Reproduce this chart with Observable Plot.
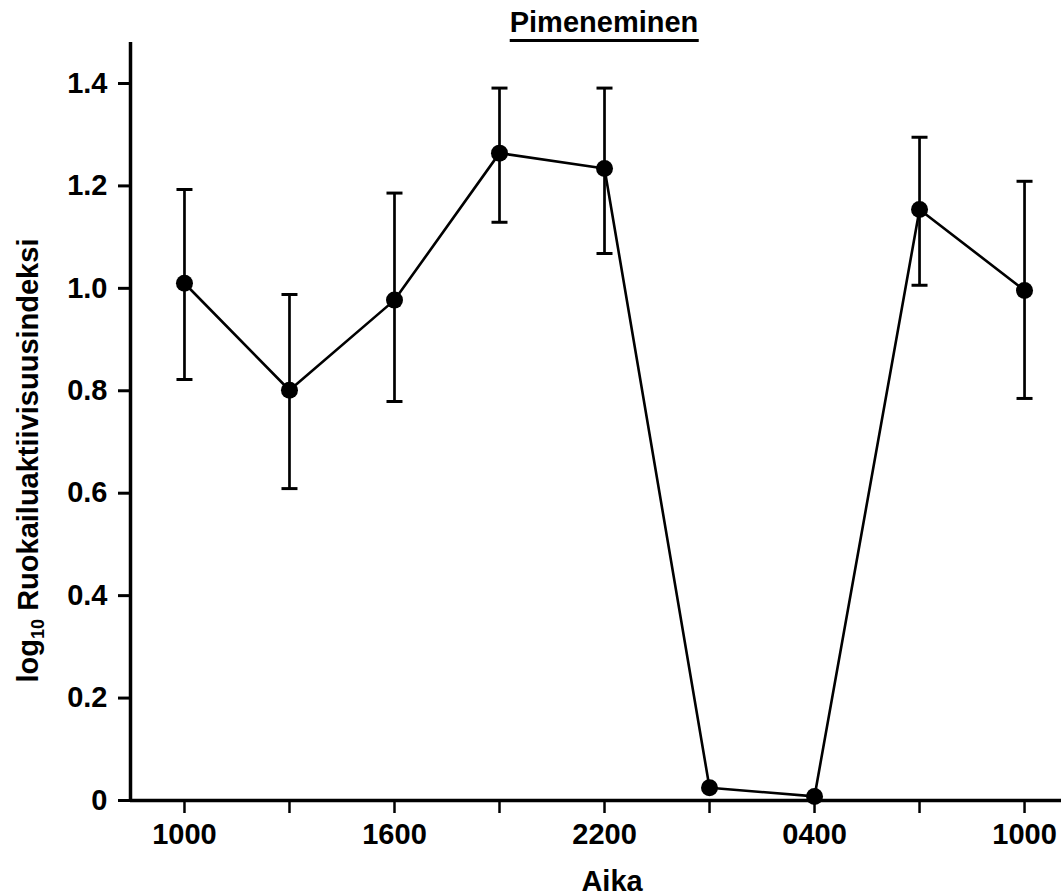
<!DOCTYPE html>
<html><head><meta charset="utf-8">
<script src="https://cdn.jsdelivr.net/npm/d3@7"></script>
<script src="https://cdn.jsdelivr.net/npm/@observablehq/plot@0.6"></script>
<style>
body{margin:0;background:#fff;font-family:"Liberation Sans",Arial,sans-serif;}
#title{position:relative;width:1061px;height:42px;}
#title span{position:absolute;left:604px;top:7.5px;transform:translateX(-50%);font-size:29px;font-weight:bold;line-height:1;padding-bottom:2px;border-bottom:3px solid #000;white-space:nowrap;color:#000;}
</style></head><body>
<div id="title"><span>Pimeneminen</span></div>
<div id="chart"></div>
<script>
const times = ["1000","1300","1600","1900","2200","0100","0400","0700","1000"];
const tickLabels = ["1000","","1600","","2200","","0400","","1000"];
const means = [1.010, 0.801, 0.977, 1.264, 1.234, 0.025, 0.008, 1.154, 0.996];
const upper = [1.193, 0.988, 1.186, 1.391, 1.391, null, null, 1.295, 1.209];
const lower = [0.822, 0.609, 0.779, 1.129, 1.068, null, null, 1.006, 0.785];
const yTicks = [0, 0.2, 0.4, 0.6, 0.8, 1.0, 1.2, 1.4];
const xLabel = "Aika";
const yLabel = "log10 Ruokailuaktiivisuusindeksi";
const xDomain = [-0.514, 8.352];
const yDomain = [0, 1.48];

const data = times.map((t, i) => ({i, t, m: means[i], hi: upper[i], lo: lower[i]}));
const capSymbol = {draw(ctx, size) { const r = Math.sqrt(size / Math.PI); ctx.moveTo(-r, 0); ctx.lineTo(r, 0); }};

const plot = Plot.plot({
  width: 1061, height: 853,
  marginTop: 0, marginLeft: 130, marginRight: 0, marginBottom: 95,
  style: {fontFamily: "'Liberation Sans', Arial, sans-serif", fontSize: "29px", fontWeight: "bold", color: "#000", background: "#fff", overflow: "visible"},
  x: {type: "linear", domain: xDomain},
  y: {domain: yDomain},
  marks: [
    Plot.axisX({ticks: times.map((_, i) => i), tickFormat: i => tickLabels[i], tickSize: 13, tickPadding: 10, strokeWidth: 2.5, label: null}),
    Plot.axisY({ticks: yTicks, tickFormat: d => d === 0 ? "0" : d.toFixed(1), tickSize: 12, tickPadding: 11, strokeWidth: 3, label: null}),
    Plot.ruleY([yDomain[0]], {strokeWidth: 3.5}),
    Plot.ruleX([xDomain[0]], {strokeWidth: 3.5}),
    Plot.ruleX(data, {x: "i", y1: "lo", y2: "hi", strokeWidth: 2.7}),
    Plot.dot(data, {x: "i", y: "hi", symbol: capSymbol, r: 8, fill: "none", stroke: "#000", strokeWidth: 3}),
    Plot.dot(data, {x: "i", y: "lo", symbol: capSymbol, r: 8, fill: "none", stroke: "#000", strokeWidth: 3}),
    Plot.line(data, {x: "i", y: "m", stroke: "#000", strokeWidth: 2.6}),
    Plot.dot(data, {x: "i", y: "m", r: 8.5, fill: "#000", stroke: "none"}),
    Plot.text([xLabel], {text: d => d, frameAnchor: "bottom", textAnchor: "middle", lineAnchor: "middle", dx: 16, dy: 81, fill: "#000"}),
    Plot.text([yLabel], {text: d => d, frameAnchor: "left", textAnchor: "middle", lineAnchor: "middle", rotate: -90, dx: -102, dy: 39, fill: "#000"})
  ]
});
document.getElementById("chart").appendChild(plot);

// subscript "10" in the y label
d3.select(plot).selectAll("text").filter(function() { return this.textContent === yLabel; }).each(function() {
  const t = d3.select(this);
  t.text(null);
  t.append("tspan").text("log");
  t.append("tspan").text("10").attr("font-size", "18px").attr("dy", "6");
  t.append("tspan").text(" Ruokailuaktiivisuusindeksi").attr("dy", "-6");
});
</script>
</body></html>
